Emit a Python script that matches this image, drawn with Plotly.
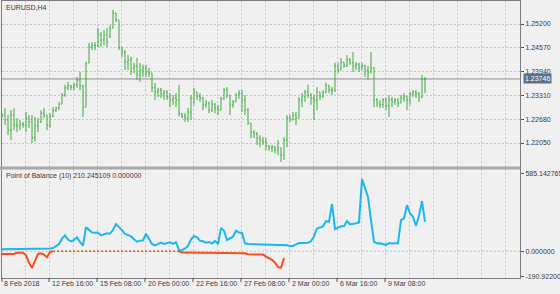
import plotly.graph_objects as go

# ---------------- data ----------------
bar_open = [1.2276,1.2279,1.2266,1.2239,1.2279,1.2253,1.2250,1.2255,1.2253,1.2271,
            1.2261,1.2218,1.2250,1.2261,1.2284,1.2279,1.2253,1.2276,1.2292,1.2298,
            1.2308,1.2332,1.2351,1.2356,1.2353,1.2359,1.2372,1.2356,1.2300,1.2417,
            1.2459,1.2464,1.2462,1.2491,1.2478,1.2491,1.2488,1.2509,1.2549,1.2531,
            1.2457,1.2446,1.2419,1.2425,1.2404,1.2409,1.2385,1.2398,1.2404,1.2393,
            1.2390,1.2351,1.2340,1.2345,1.2335,1.2340,1.2327,1.2319,1.2324,1.2319,
            1.2282,1.2276,1.2271,1.2287,1.2324,1.2340,1.2329,1.2324,1.2306,1.2311,
            1.2292,1.2308,1.2298,1.2292,1.2322,1.2345,1.2332,1.2306,1.2314,1.2332,
            1.2337,1.2319,1.2292,1.2258,1.2234,1.2229,1.2218,1.2213,1.2208,1.2197,
            1.2192,1.2194,1.2186,1.2192,1.2173,1.2213,1.2271,1.2266,1.2279,1.2271,
            1.2319,1.2327,1.2340,1.2332,1.2324,1.2319,1.2340,1.2329,1.2340,1.2356,
            1.2345,1.2345,1.2409,1.2398,1.2419,1.2409,1.2425,1.2417,1.2409,1.2414,
            1.2404,1.2409,1.2398,1.2393,1.2404,1.2319,1.2311,1.2306,1.2319,1.2303,
            1.2319,1.2314,1.2319,1.2311,1.2324,1.2329,1.2319,1.2335,1.2340,1.2335,
            1.2327,1.2374]
bar_high = [1.2284,1.2298,1.2279,1.2292,1.2298,1.2271,1.2266,1.2261,1.2287,1.2279,
            1.2279,1.2274,1.2271,1.2292,1.2298,1.2279,1.2284,1.2300,1.2300,1.2314,
            1.2337,1.2359,1.2367,1.2359,1.2364,1.2380,1.2393,1.2359,1.2419,1.2470,
            1.2472,1.2472,1.2509,1.2499,1.2504,1.2509,1.2517,1.2557,1.2549,1.2531,
            1.2459,1.2451,1.2438,1.2433,1.2417,1.2430,1.2417,1.2412,1.2412,1.2404,
            1.2390,1.2364,1.2351,1.2351,1.2345,1.2345,1.2337,1.2332,1.2337,1.2359,
            1.2284,1.2284,1.2298,1.2332,1.2351,1.2340,1.2337,1.2327,1.2319,1.2314,
            1.2319,1.2311,1.2306,1.2327,1.2351,1.2353,1.2332,1.2319,1.2337,1.2345,
            1.2345,1.2332,1.2298,1.2258,1.2239,1.2234,1.2226,1.2221,1.2218,1.2200,
            1.2200,1.2197,1.2213,1.2192,1.2221,1.2279,1.2279,1.2287,1.2287,1.2327,
            1.2337,1.2345,1.2359,1.2337,1.2332,1.2353,1.2340,1.2345,1.2364,1.2359,
            1.2353,1.2417,1.2417,1.2430,1.2419,1.2438,1.2430,1.2446,1.2419,1.2417,
            1.2417,1.2412,1.2409,1.2446,1.2406,1.2324,1.2319,1.2324,1.2324,1.2332,
            1.2327,1.2324,1.2324,1.2332,1.2337,1.2329,1.2340,1.2345,1.2345,1.2340,
            1.2385,1.2380]
bar_low = [1.2271,1.2253,1.2226,1.2213,1.2239,1.2234,1.2239,1.2245,1.2234,1.2245,
           1.2205,1.2208,1.2234,1.2258,1.2271,1.2239,1.2245,1.2274,1.2287,1.2292,
           1.2308,1.2327,1.2345,1.2345,1.2345,1.2351,1.2345,1.2274,1.2300,1.2417,
           1.2451,1.2451,1.2459,1.2459,1.2464,1.2459,1.2483,1.2509,1.2525,1.2451,
           1.2433,1.2398,1.2398,1.2385,1.2390,1.2372,1.2367,1.2380,1.2380,1.2380,
           1.2340,1.2319,1.2327,1.2324,1.2319,1.2319,1.2300,1.2306,1.2300,1.2276,
           1.2271,1.2261,1.2261,1.2266,1.2306,1.2319,1.2314,1.2292,1.2298,1.2284,
           1.2287,1.2284,1.2279,1.2292,1.2319,1.2324,1.2279,1.2298,1.2314,1.2322,
           1.2287,1.2279,1.2253,1.2218,1.2218,1.2200,1.2194,1.2200,1.2186,1.2184,
           1.2181,1.2178,1.2173,1.2155,1.2160,1.2194,1.2261,1.2266,1.2253,1.2271,
           1.2300,1.2314,1.2324,1.2306,1.2266,1.2292,1.2319,1.2324,1.2337,1.2337,
           1.2332,1.2340,1.2390,1.2398,1.2404,1.2406,1.2412,1.2393,1.2398,1.2393,
           1.2398,1.2380,1.2372,1.2390,1.2300,1.2300,1.2298,1.2298,1.2292,1.2274,
           1.2300,1.2306,1.2300,1.2311,1.2314,1.2292,1.2306,1.2327,1.2324,1.2314,
           1.2324,1.2337]
bar_close = [1.2279,1.2266,1.2239,1.2279,1.2253,1.2250,1.2255,1.2253,1.2271,1.2261,
             1.2218,1.2250,1.2261,1.2284,1.2279,1.2253,1.2276,1.2292,1.2298,1.2308,
             1.2332,1.2351,1.2356,1.2353,1.2359,1.2372,1.2356,1.2300,1.2417,1.2459,
             1.2464,1.2462,1.2491,1.2478,1.2491,1.2472,1.2509,1.2549,1.2531,1.2457,
             1.2446,1.2419,1.2425,1.2404,1.2409,1.2385,1.2398,1.2404,1.2393,1.2390,
             1.2351,1.2340,1.2345,1.2335,1.2340,1.2327,1.2319,1.2324,1.2319,1.2282,
             1.2276,1.2271,1.2287,1.2324,1.2340,1.2329,1.2324,1.2306,1.2311,1.2292,
             1.2308,1.2298,1.2292,1.2322,1.2345,1.2332,1.2306,1.2314,1.2332,1.2337,
             1.2319,1.2292,1.2258,1.2234,1.2229,1.2218,1.2213,1.2208,1.2197,1.2192,
             1.2194,1.2186,1.2192,1.2173,1.2213,1.2271,1.2266,1.2279,1.2271,1.2319,
             1.2327,1.2340,1.2332,1.2324,1.2319,1.2340,1.2329,1.2340,1.2356,1.2345,
             1.2345,1.2409,1.2398,1.2419,1.2409,1.2425,1.2417,1.2409,1.2414,1.2404,
             1.2409,1.2398,1.2393,1.2404,1.2319,1.2311,1.2306,1.2319,1.2303,1.2319,
             1.2314,1.2319,1.2311,1.2324,1.2329,1.2319,1.2335,1.2340,1.2335,1.2327,
             1.2374,1.23746]

pob_blue = [15,15,15,15,15,15,15,15,15,15,
            20,20,20,20,20,20,20,24,42,55,
            95,120,88,75,85,105,70,42,182,162,
            142,140,142,120,130,135,132,160,205,185,
            160,130,122,112,90,72,80,82,132,95,
            55,45,58,65,55,60,68,55,68,8,
            10,20,40,88,115,105,80,75,65,70,
            58,78,55,175,155,85,95,110,155,142,
            138,60,55,54,53,52,52,51,50,50,
            50,50,50,48,48,46,40,40,52,62,
            62,62,65,75,112,172,178,188,228,222,
            358,168,178,188,188,228,202,205,212,218,
            545,478,410,235,72,58,60,55,48,62,
            58,60,60,235,248,348,285,260,192,268,
            378,222]
pob_red = ([-20,-20,-20,-20,-20,-12,-12,-12,-30,-88,
            -125,-75,-20,-15,-25,-45,-5]
           + [0] * 43
           + [-10,-10,-10,-10,-10,-10,-10,-10,-10,-10,
              -10,-15,-15,-15,-15,-15,-15,-15,-15,-15,
              -15,-15,-22,-25,-25,-25,-25,-25,-40,-50,
              -65,-87,-120,-125,-50]
           + [None] * 47)

time_labels = ["8 Feb 2018", "12 Feb 16:00", "15 Feb 08:00", "20 Feb 00:00",
               "22 Feb 16:00", "27 Feb 08:00", "2 Mar 00:00", "6 Mar 16:00", "9 Mar 08:00"]
time_label_bars = [0, 16, 32, 48, 64, 80, 96, 112, 128]
price_ticks = [1.25200, 1.24570, 1.23940, 1.23310, 1.22680, 1.22050]
current_price = 1.23746
pob_ticks = [585.142765, 0.0, -190.922005]
pob_tick_text = ["585.142765", "0.000000", "-190.922005"]
title_main = "EURUSD,H4"
title_sub = "Point of Balance (10) 210.245109 0.000000"

# ---------------- styles ----------------
BG = "#f0f0f0"
GRID = "#c6c6c6"
FRAME = "#7d7d7d"
GREEN = "#3fa83f"
BLUE = "#1cb6f2"
RED = "#ff4a1c"
TXT = "#3a3a3a"
FONT = "Liberation Sans"

n = len(bar_close)
idx = list(range(n))
X_RANGE = [0, 172.67]
grid_x = [7.67 + 8 * k for k in range(22)]

def px_x(b):
    """bar index -> paper x fraction"""
    return (b - X_RANGE[0]) / (X_RANGE[1] - X_RANGE[0])

# split red into solid / dotted (zero) parts
red_solid, red_dot = [], []
for i, v in enumerate(pob_red):
    if v is None:
        red_solid.append(None); red_dot.append(None)
    elif v == 0:
        prev_nz = i > 0 and pob_red[i - 1] not in (0, None)
        next_nz = i < n - 1 and pob_red[i + 1] not in (0, None)
        red_solid.append(v if (prev_nz or next_nz) else None)
        red_dot.append(v)
    else:
        red_solid.append(v); red_dot.append(None)

fig = go.Figure()
fig.add_trace(go.Ohlc(
    x=idx, open=bar_open, high=bar_high, low=bar_low, close=bar_close,
    increasing=dict(line=dict(color=GREEN, width=1)),
    decreasing=dict(line=dict(color=GREEN, width=1)),
    tickwidth=0.34, xaxis="x", yaxis="y", hoverinfo="skip", showlegend=False))
fig.add_trace(go.Scatter(x=idx, y=pob_blue, mode="lines",
                         line=dict(color=BLUE, width=2),
                         xaxis="x2", yaxis="y2", hoverinfo="skip", showlegend=False))
fig.add_trace(go.Scatter(x=idx, y=red_dot, mode="lines",
                         line=dict(color=RED, width=1.5, dash="2px,2px"),
                         xaxis="x2", yaxis="y2", hoverinfo="skip", showlegend=False))
fig.add_trace(go.Scatter(x=idx, y=red_solid, mode="lines",
                         line=dict(color=RED, width=2),
                         xaxis="x2", yaxis="y2", hoverinfo="skip", showlegend=False))

H = 277.0
def py(ypx):
    return (278.0 - ypx) / H

axis_common = dict(showline=True, mirror=True, linecolor=FRAME, linewidth=1,
                   zeroline=False, automargin=False, fixedrange=True)

shapes = []
shapes.append(dict(type="line", xref="paper", x0=0, x1=1, yref="y",
                   y0=current_price, y1=current_price,
                   line=dict(color="#8e8e8e", width=1), layer="below"))
shapes.append(dict(type="line", xref="paper", x0=0, x1=1, yref="y2", y0=0, y1=0,
                   line=dict(color=GRID, width=1, dash="2px,2px"), layer="below"))
shapes.append(dict(type="rect", xref="paper", x0=-0.004, x1=1.0,
                   yref="paper", y0=py(169.5), y1=py(166.5),
                   fillcolor="#a9a9a9", line=dict(width=0), layer="above"))
for b in time_label_bars:
    xp = max(px_x(b - 0.33), 0.0)
    shapes.append(dict(type="line", xref="paper", x0=xp, x1=xp,
                       yref="paper", y0=0, y1=py(282),
                       line=dict(color="#555555", width=1)))

annotations = []
for lab, b in zip(time_labels, time_label_bars):
    annotations.append(dict(text=lab, xref="paper", x=px_x(b - 0.33), xanchor="left",
                            xshift=1, yref="paper", y=py(283.5), yanchor="middle",
                            showarrow=False, font=dict(family=FONT, size=7, color=TXT)))
annotations.append(dict(text=title_main, xref="paper", x=(4 - 2) / 518, xanchor="left",
                        yref="paper", y=py(7.3), yanchor="middle", showarrow=False,
                        font=dict(family=FONT, size=7, color=TXT)))
annotations.append(dict(text=title_sub, xref="paper", x=(4 - 2) / 518, xanchor="left",
                        yref="paper", y=py(176.3), yanchor="middle", showarrow=False,
                        font=dict(family=FONT, size=7, color=TXT)))
annotations.append(dict(text=f"{current_price:.5f}", xref="paper", x=1, xanchor="left",
                        xshift=3, yref="y", y=current_price, yanchor="middle",
                        showarrow=False, bgcolor="#5d7089", borderpad=1,
                        font=dict(family=FONT, size=7, color="white")))

fig.update_layout(
    width=560, height=294, template="none",
    margin=dict(l=2, r=40, t=1, b=16, pad=0),
    paper_bgcolor=BG, plot_bgcolor=BG, showlegend=False,
    xaxis=dict(domain=[0, 1], anchor="y", range=X_RANGE, tickvals=grid_x,
               showticklabels=False, ticks="", showgrid=True, gridcolor=GRID,
               griddash="2px,2px", gridwidth=1, rangeslider=dict(visible=False),
               **axis_common),
    yaxis=dict(domain=[py(167), 1], anchor="x", side="right",
               range=[1.21415, 1.25809], tickvals=price_ticks,
               ticktext=[f"{v:.5f}" for v in price_ticks],
               ticks="outside", ticklen=3, tickcolor="#555555",
               tickfont=dict(family=FONT, size=7, color=TXT),
               showgrid=True, gridcolor=GRID, griddash="2px,2px", gridwidth=1,
               **axis_common),
    xaxis2=dict(domain=[0, 1], anchor="y2", range=X_RANGE, matches="x", tickvals=grid_x,
                showticklabels=False, ticks="", showgrid=True, gridcolor=GRID,
                griddash="2px,2px", gridwidth=1, **axis_common),
    yaxis2=dict(domain=[0, py(169)], anchor="x2", side="right",
                range=[-202, 621], tickvals=pob_ticks, ticktext=pob_tick_text,
                ticks="outside", ticklen=3, tickcolor="#555555",
                tickfont=dict(family=FONT, size=7, color=TXT),
                showgrid=False, **axis_common),
    shapes=shapes, annotations=annotations,
)

fig.write_html("out.html")
